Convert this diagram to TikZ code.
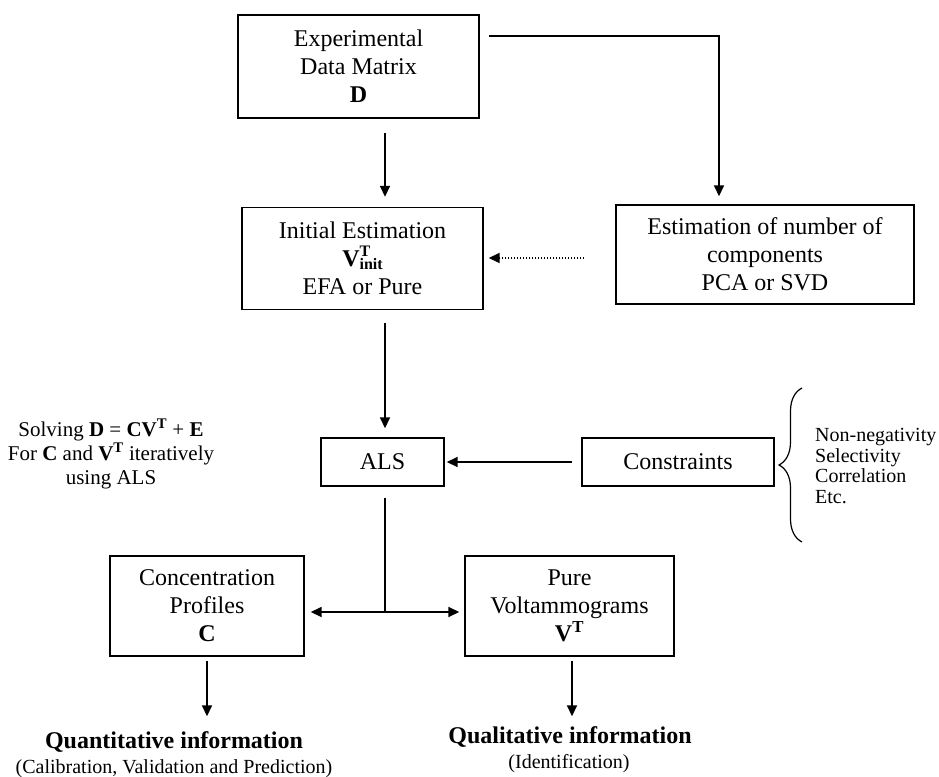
\documentclass[tikz,border=0pt]{standalone}
\usepackage{fontspec}
\setmainfont{Liberation Serif}
\usetikzlibrary{arrows.meta,decorations.pathreplacing}
\begin{document}
\begin{tikzpicture}[x=1pt,y=-1pt,
  box/.style={draw, line width=1.4pt, inner sep=0pt, align=center, font=\fontsize{24}{28}\selectfont},
  arr/.style={line width=1.6pt, -{Triangle[length=11pt,width=10pt]}},
  plain/.style={line width=1.6pt},
  dotline/.style={dash pattern=on 1.5pt off 1.5pt},
  note/.style={inner sep=0pt, align=center}]
\useasboundingbox[fill=white] (0,0) rectangle (939,776);

% boxes
\node[box, minimum width=241pt, minimum height=103pt] (data) at (358.5,66.5) {Experimental\\Data Matrix\\\textbf{D}};
\node[box, minimum width=241pt, minimum height=102pt] (init) at (362.5,258.5) {Initial Estimation\\\textbf{V}\rlap{\raisebox{10.5pt}{\fontsize{16}{16}\selectfont\textbf{T}}}\raisebox{-3pt}{\fontsize{16}{16}\selectfont\textbf{init}}\\EFA or Pure};
\node[box, minimum width=298pt, minimum height=99pt] (est) at (765,254.5) {Estimation of number of\\components\\PCA or SVD};
\node[box, minimum width=123pt, minimum height=48pt] (als) at (382.5,462) {ALS};
\node[box, minimum width=192pt, minimum height=48pt] (cons) at (678,462) {Constraints};
\node[box, minimum width=194pt, minimum height=100pt] (conc) at (207,606) {Concentration\\Profiles\\\textbf{C}};
\node[box, minimum width=209pt, minimum height=100pt] (pure) at (569.5,606) {Pure\\Voltammograms\\\textbf{V}\textsuperscript{\textbf{T}}};

% free texts
\node[note, font=\fontsize{21}{24}\selectfont] (solve) at (111,454) {Solving \textbf{D} = \textbf{CV}\textsuperscript{\textbf{T}} + \textbf{E}\\For \textbf{C} and \textbf{V}\textsuperscript{\textbf{T}} iteratively\\using ALS};
\node[inner sep=0pt, align=left, anchor=west, font=\fontsize{20}{20.5}\selectfont] (clist) at (815,466) {Non-negativity\\Selectivity\\Correlation\\Etc.};
\node[anchor=base, inner sep=0pt, font=\fontsize{24}{28}\selectfont\bfseries] (quant) at (174,748) {Quantitative information};
\node[anchor=base, inner sep=0pt, font=\fontsize{20}{24}\selectfont] (quantsub) at (174,773) {(Calibration, Validation and Prediction)};
\node[anchor=base, inner sep=0pt, font=\fontsize{24}{28}\selectfont\bfseries] (qual) at (570,743) {Qualitative information};
\node[anchor=base, inner sep=0pt, font=\fontsize{20}{24}\selectfont] (qualsub) at (569,768) {(Identification)};

% brace
\draw[decorate, decoration={brace, amplitude=23pt}, line width=1.2pt] (802,542) -- (802,388);

% connectors
\coordinate (topr) at (719,36);
\coordinate (spine) at (385,0);
\coordinate (pspine) at (572,0);
\coordinate (dotrow) at (0,258);
\coordinate (junc) at (385,612);
\draw[arr, shorten <=14pt, shorten >=10pt] (data.south -| spine) -- (init.north -| spine);
\draw[arr, shorten <=9pt, shorten >=8pt] (data.east |- topr) -| (est.north -| topr);
\draw[arr, dotline, shorten <=31pt, shorten >=5pt] (est.west |- dotrow) -- (init.east |- dotrow);
\draw[arr, shorten <=13pt, shorten >=9pt] (init.south -| spine) -- (als.north -| spine);
\draw[arr, shorten <=9pt, shorten >=2pt] (cons.west) -- (als.east);
\draw[plain, shorten <=11pt] (als.south -| spine) -- (junc);
\draw[arr, shorten >=6pt] (junc) -- (conc.east |- junc);
\draw[arr, shorten >=5pt] (junc) -- (pure.west |- junc);
\draw[arr, shorten <=4pt, shorten >=14.6pt] (conc.south) -- (conc.south |- quant.north);
\draw[arr, shorten <=4pt, shorten >=9.6pt] (pure.south -| pspine) -- (qual.north -| pspine);
\end{tikzpicture}
\end{document}
